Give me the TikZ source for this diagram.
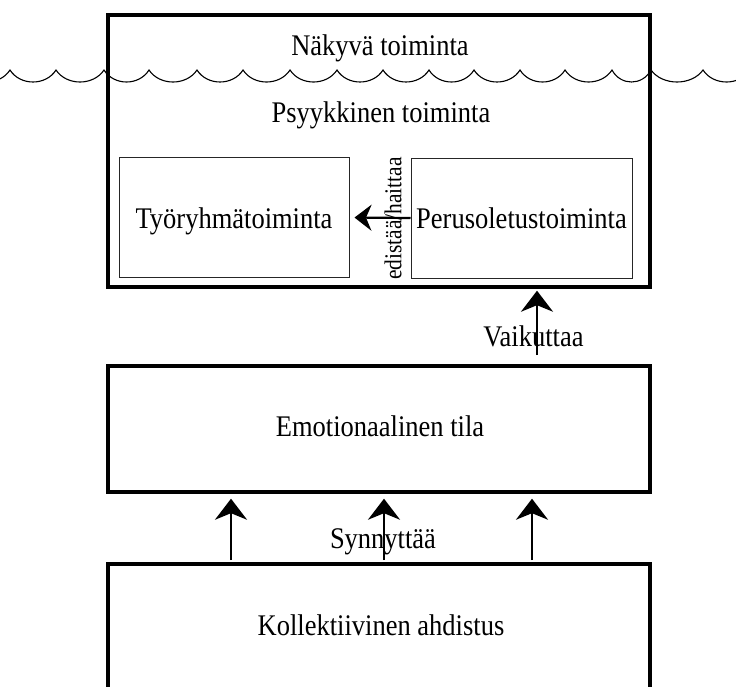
\documentclass[tikz,border=0pt]{standalone}
\usepackage{fontspec}
\usepackage{graphicx}
\setmainfont{Liberation Serif}
\usetikzlibrary{arrows.meta}
\newcommand\tallt[1]{\scalebox{1}[1.13]{#1}}
\begin{document}
\begin{tikzpicture}[x=1pt,y=-1pt,
  outerbox/.style={draw=black, line width=3.4pt, rectangle, inner sep=0pt},
  innerbox/.style={draw=black!85, line width=1pt, rectangle, inner sep=0pt},
  lbl/.style={inner sep=0pt, anchor=base, font=\fontsize{26.5}{30}\selectfont},
  smalllbl/.style={inner sep=0pt, font=\fontsize{21.5}{24}\selectfont},
  bigarrow/.style={line width=2.3pt, -{Stealth[length=21pt, width=32pt, inset=6.5pt]}},
  smallarrow/.style={line width=2.2pt, -{Stealth[length=17pt, width=26pt, inset=5.5pt]}},
  wave/.style={line width=1.1pt}
]
\useasboundingbox (0,0) rectangle (736,686);

% boxes
\node[outerbox, minimum width=542pt, minimum height=272pt] (top) at (379,151) {};
\node[innerbox, minimum width=230pt, minimum height=120pt] (tyo) at (234,217.5) {};
\node[innerbox, minimum width=221pt, minimum height=120pt] (peru) at (521.5,218) {};
\node[outerbox, minimum width=542pt, minimum height=126pt] (emo) at (379,429) {};
\node[outerbox, minimum width=542pt, minimum height=156pt] (bot) at (379,642) {};

% wave
\begin{scope}
\clip (0,40) rectangle (736,100);
\draw[wave] (-37,70)
  foreach \a/\b in {-37/10, 10/56, 56/104, 104/149, 149/197, 197/243, 243/290, 290/337, 337/383, 383/429, 429/474, 474/520, 520/565, 565/612, 612/651, 651/703, 703/750} {
    .. controls ({\a+0.22*(\b-\a)},86) and ({\b-0.22*(\b-\a)},86) .. (\b,70)
  };
\end{scope}

% texts
\node[lbl] (nakyva) at (380,55) {\tallt{Näkyvä toiminta}};
\node[lbl] (psyyk) at (381,122) {\tallt{Psyykkinen toiminta}};
\node[lbl] (tyotxt) at (tyo.center |- 0,228) {\tallt{Työryhmätoiminta}};
\node[lbl] (perutxt) at (peru.center |- 0,228) {\tallt{Perusoletustoiminta}};
\node[lbl] (emotxt) at (380,436) {\tallt{Emotionaalinen tila}};
\node[lbl] (bottxt) at (381,635) {\tallt{Kollektiivinen ahdistus}};

% left arrow with rotated label
\draw[smallarrow, shorten >=5pt] (peru.west) -- (tyo.east);
\node[smalllbl, rotate=90] (edist) at (393,218.5) {\tallt{edistää/haittaa}};

% Vaikuttaa arrow
\coordinate (vk) at (537,355);
\node[lbl] (vaik) at (533.5,346) {\tallt{Vaikuttaa}};
\draw[bigarrow, shorten >=2pt] (vk) -- (vk |- top.south);

% Synnyttää arrows
\node[lbl] (synn) at (383,548) {\tallt{Synnyttää}};
\coordinate (s1) at (231,564);
\coordinate (s2) at (384,564);
\coordinate (s3) at (532,564);
\foreach \s in {s1,s2,s3}
  \draw[bigarrow, shorten <=4pt, shorten >=5pt] (\s) -- (\s |- emo.south);
\end{tikzpicture}
\end{document}
